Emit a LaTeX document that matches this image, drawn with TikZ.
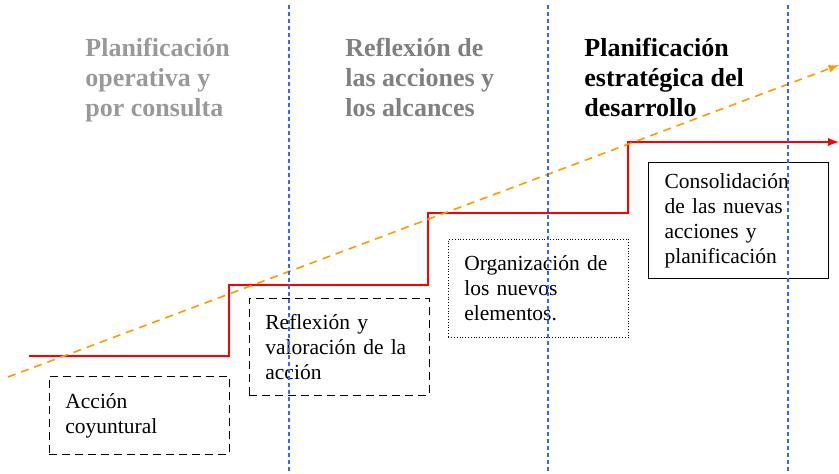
\documentclass[tikz,border=0pt]{standalone}
\usepackage{fontspec}
\setmainfont{Liberation Serif}
\usepackage{xcolor}
\usetikzlibrary{arrows,calc,positioning}
\definecolor{grisclaro}{RGB}{153,153,153}
\definecolor{grisoscuro}{RGB}{128,128,128}
\definecolor{azul}{RGB}{51,102,255}
\definecolor{naranja}{RGB}{255,153,0}
\tikzset{%
	caja/.style    = {draw, rectangle, anchor=north west, inner xsep=8pt, inner ysep=0pt, text width=74pt, align=left, font=\fontsize{10.75}{12.5}\selectfont},
	titulo/.style  = {anchor=north west, inner sep=0pt, align=left, font=\fontsize{13}{15}\selectfont\bfseries},
	limite/.style  = {draw=azul, line width=0.6pt, dash pattern=on 2pt off 1.5pt}, % Etapas
	escalon/.style = {draw=red, line width=0.9pt, -latex}, % Avance
	tendencia/.style = {draw=naranja, line width=0.8pt, dash pattern=on 4pt off 3pt, -latex}, % Tendencia
}
\begin{document}
\begin{tikzpicture}[x=0.5pt, y=-0.5pt]
	\useasboundingbox (0,0) rectangle (839,474);
	% titulos
	\node[titulo, text=grisclaro] (t1) at (85,38) {Planificación\\operativa y\\por consulta};
	\node[titulo, text=grisoscuro] (t2) at (345,38) {Reflexión de\\las acciones y\\los alcances};
	\node[titulo] (t3) at (584,38) {Planificación\\estratégica del\\desarrollo};
	% cajas
	\node[caja, dashed, dash pattern=on 4pt off 2.5pt, minimum height=39pt] (accion) at (49,376) {Acción\\coyuntural};
	\node[caja, dashed, dash pattern=on 4pt off 2.5pt, minimum height=48.5pt] (reflexion) at (249,298) {Reflexión y\\valoración de la\\acción};
	\node[caja, densely dotted, minimum height=49pt] (organizacion) at (448,239) {Organización de\\los nuevos\\elementos.};
	\node[caja, line width=0.6pt, minimum height=58pt] (consolidacion) at (648,162) {Consolidación\\de las nuevas\\acciones y\\planificación};
	% escalones
	\coordinate (e0) at (29,356);
	\coordinate (e1) at (229,285);
	\coordinate (e2) at (428,213);
	\coordinate (e3) at (628,142);
	\coordinate (e4) at (839,142);
	\draw[escalon] (e0) -| (e1) -| (e2) -| (e3) -- (e4);
	% tendencia
	\coordinate (n0) at (8,377);
	\coordinate (n1) at (839,65);
	\draw[tendencia] (n0) -- (n1);
	% limites entre etapas
	\foreach \x [count=\i] in {289,548,788} {
		\coordinate (l\i a) at (\x,5);
		\coordinate (l\i b) at (\x,474);
		\draw[limite] (l\i a) -- (l\i b);
	}
\end{tikzpicture}
\end{document}
